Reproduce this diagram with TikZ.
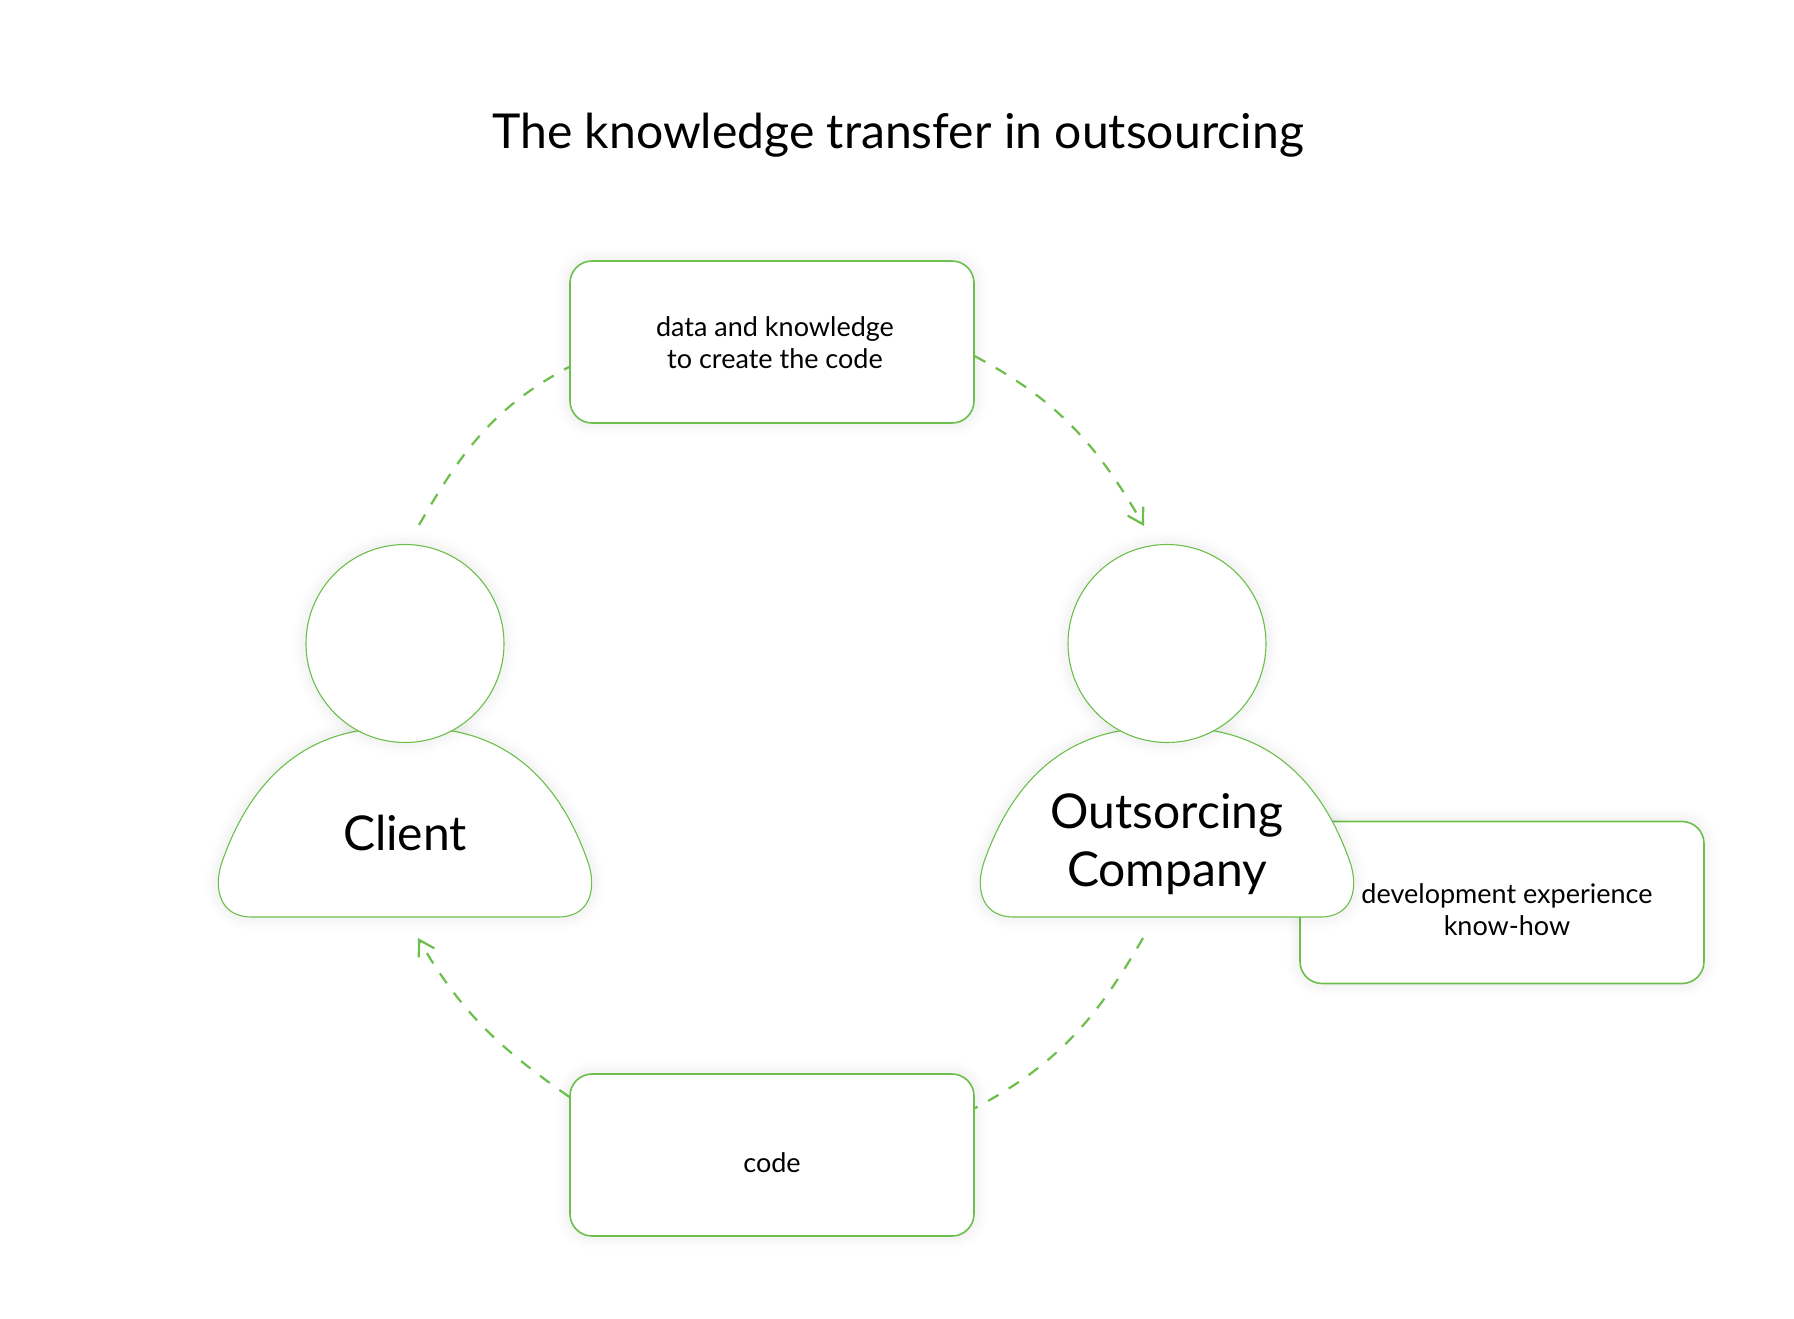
\documentclass[tikz,border=0pt]{standalone}
\usepackage{fontspec}
\setmainfont{Lato}
\usetikzlibrary{arrows.meta}

\begin{document}
\begin{tikzpicture}[
    x=0.5pt, y=-0.5pt,
    line join=round,
    softshadow/.style={
        preaction={draw=black, draw opacity=0.006, line width=13pt},
        preaction={draw=black, draw opacity=0.008, line width=10pt},
        preaction={draw=black, draw opacity=0.010, line width=7pt},
        preaction={draw=black, draw opacity=0.012, line width=4pt}},
    infobox/.style={softshadow, draw=leafgreen, line width=0.8pt, fill=white, rounded corners=11pt, minimum width=202pt, minimum height=81pt},
    infotext/.style={align=center, font=\fontsize{13.5}{16}\selectfont, inner sep=0pt},
    personline/.style={softshadow, draw=leafgreen, line width=0.55pt, fill=white},
    personhead/.style={personline, circle, minimum size=99pt, inner sep=0pt},
    personname/.style={align=center, font=\fontsize{24}{29}\selectfont, inner sep=0pt},
    flow/.style={draw=leafgreen, line width=1.1pt, dash pattern=on 6pt off 6pt}
]

% ========= Colors =========
\definecolor{leafgreen}{RGB}{108,191,75}

% ========= Helper: shoulders of a person =========
% args: x shift
\newcommand{\personbody}[1]{
    \path[personline, shift={(#1,0)}] (357,731)
        .. controls (282,745) and (243,802) .. (222,862)
        .. controls (214,885) and (217,917) .. (252,917)
        -- (558,917)
        .. controls (593,917) and (596,885) .. (588,862)
        .. controls (567,802) and (528,745) .. (453,731) -- cycle;
}

\fill[white] (0,0) rectangle (1794,1318);
\useasboundingbox (0,0) rectangle (1794,1318);

% ========= Title =========
\node[inner sep=0pt, font=\fontsize{24.05}{29}\selectfont] (title) at (898,135.5) {The knowledge transfer in outsourcing};

% ========= Boxes =========
\node[infobox] (databox) at (772,342) {};
\node[infotext] (datatext) at (775,343) {data and knowledge\\to create the code};
\node[infobox] (codebox) at (772,1155) {};
\node[infotext] (codetext) at (772,1163) {code};
\node[infobox] (expbox) at (1502,902.5) {};
\node[infotext] (exptext) at (1507,909.5) {development experience\\know-how};

% ========= People =========
\personbody{0}
\node[personhead] (clienthead) at (405,643.5) {};
\node[personname] (clientname) at (405,833) {Client};

\personbody{762}
\node[personhead] (companyhead) at (1167,643.5) {};
\node[personname] (companyname) at (1167,844) {Outsorcing\\Company};

% ========= Flow ends =========
\coordinate (clientout) at (419,525);
\coordinate (clientin) at (418,938);
\coordinate (companyin) at (1144,526);
\coordinate (companyout) at (1143,938);

% ========= Arrows =========
\draw[flow] (clientout) to[out=60, in=-152] (databox.187);
\draw[flow, -{Straight Barb[length=7.5pt, width=9pt, line width=1.1pt]}] (databox.-4) to[out=-28, in=120] (companyin);
\draw[flow] (companyout) to[out=-120, in=28] (codebox.13);
\draw[flow, -{Straight Barb[length=7.5pt, width=9pt, line width=1.1pt]}] (codebox.164) to[out=145, in=-60] (clientin);

\end{tikzpicture}
\end{document}
